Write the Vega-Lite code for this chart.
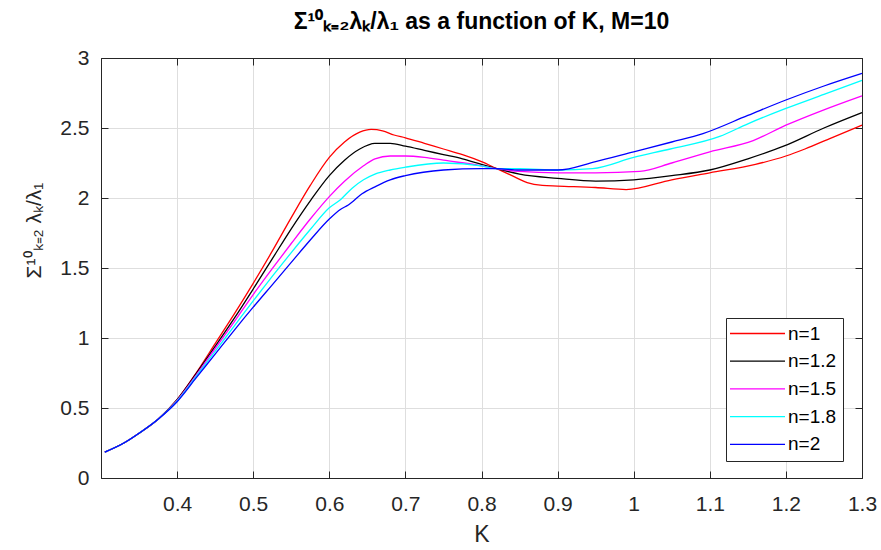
{
  "$schema": "https://vega.github.io/schema/vega-lite/v6.json",
  "width": 761,
  "height": 420,
  "autosize": "none",
  "padding": {"left": 101, "top": 58, "right": 19, "bottom": 72},
  "background": "white",
  "config": {
    "font": "Liberation Sans",
    "view": {"stroke": "#262626", "strokeWidth": 1},
    "axis": {
      "domainColor": "#262626",
      "tickColor": "#262626",
      "tickSize": -7,
      "gridColor": "#dedede",
      "gridWidth": 1,
      "labelColor": "#262626",
      "labelFont": "Liberation Sans",
      "labelFontSize": 21,
      "titleFont": "Liberation Sans",
      "titleFontWeight": "normal",
      "titleColor": "#262626",
      "titleFontSize": 23
    },
    "legend": {
      "orient": "none",
      "legendX": 625,
      "legendY": 260,
      "direction": "vertical",
      "symbolType": "M-5,0H5",
      "symbolSize": 121,
      "symbolStrokeWidth": 1.3,
      "symbolOffset": 16,
      "strokeColor": "#262626",
      "fillColor": "white",
      "padding": 6,
      "labelFontSize": 19,
      "labelFont": "Liberation Sans",
      "labelColor": "#000000",
      "rowPadding": 7.7,
      "labelOffset": 21
    }
  },
  "title": {
    "text": "Σ¹⁰ₖ₌₂λₖ/λ₁ as a function of K, M=10",
    "font": "Liberation Sans",
    "fontSize": 23,
    "fontWeight": "bold",
    "color": "#000000",
    "anchor": "middle",
    "offset": 13
  },
  "data": {
    "values": [
      {"K": 0.305, "v": 0.185, "n": "n=1"}, {"K": 0.33, "v": 0.25, "n": "n=1"}, {"K": 0.35, "v": 0.32, "n": "n=1"}, {"K": 0.375, "v": 0.42, "n": "n=1"}, {"K": 0.4, "v": 0.56, "n": "n=1"}, {"K": 0.425, "v": 0.75, "n": "n=1"}, {"K": 0.45, "v": 0.96, "n": "n=1"}, {"K": 0.475, "v": 1.17, "n": "n=1"}, {"K": 0.5, "v": 1.39, "n": "n=1"}, {"K": 0.525, "v": 1.62, "n": "n=1"}, {"K": 0.55, "v": 1.86, "n": "n=1"}, {"K": 0.575, "v": 2.09, "n": "n=1"}, {"K": 0.6, "v": 2.29, "n": "n=1"}, {"K": 0.62, "v": 2.4, "n": "n=1"}, {"K": 0.64, "v": 2.47, "n": "n=1"}, {"K": 0.655, "v": 2.49, "n": "n=1"}, {"K": 0.67, "v": 2.48, "n": "n=1"}, {"K": 0.685, "v": 2.45, "n": "n=1"}, {"K": 0.7, "v": 2.43, "n": "n=1"}, {"K": 0.725, "v": 2.39, "n": "n=1"}, {"K": 0.75, "v": 2.35, "n": "n=1"}, {"K": 0.775, "v": 2.31, "n": "n=1"}, {"K": 0.8, "v": 2.26, "n": "n=1"}, {"K": 0.82, "v": 2.21, "n": "n=1"}, {"K": 0.84, "v": 2.16, "n": "n=1"}, {"K": 0.86, "v": 2.11, "n": "n=1"}, {"K": 0.88, "v": 2.09, "n": "n=1"}, {"K": 0.9, "v": 2.085, "n": "n=1"}, {"K": 0.95, "v": 2.075, "n": "n=1"}, {"K": 0.99, "v": 2.06, "n": "n=1"}, {"K": 1.05, "v": 2.13, "n": "n=1"}, {"K": 1.1, "v": 2.18, "n": "n=1"}, {"K": 1.16, "v": 2.24, "n": "n=1"}, {"K": 1.2, "v": 2.3, "n": "n=1"}, {"K": 1.225, "v": 2.35, "n": "n=1"}, {"K": 1.26, "v": 2.43, "n": "n=1"}, {"K": 1.3, "v": 2.52, "n": "n=1"},

      {"K": 0.305, "v": 0.185, "n": "n=1.2"}, {"K": 0.33, "v": 0.25, "n": "n=1.2"}, {"K": 0.35, "v": 0.32, "n": "n=1.2"}, {"K": 0.375, "v": 0.42, "n": "n=1.2"}, {"K": 0.4, "v": 0.56, "n": "n=1.2"}, {"K": 0.425, "v": 0.745, "n": "n=1.2"}, {"K": 0.45, "v": 0.94, "n": "n=1.2"}, {"K": 0.475, "v": 1.14, "n": "n=1.2"}, {"K": 0.5, "v": 1.35, "n": "n=1.2"}, {"K": 0.525, "v": 1.565, "n": "n=1.2"}, {"K": 0.55, "v": 1.78, "n": "n=1.2"}, {"K": 0.575, "v": 1.98, "n": "n=1.2"}, {"K": 0.6, "v": 2.16, "n": "n=1.2"}, {"K": 0.62, "v": 2.27, "n": "n=1.2"}, {"K": 0.64, "v": 2.35, "n": "n=1.2"}, {"K": 0.66, "v": 2.39, "n": "n=1.2"}, {"K": 0.68, "v": 2.39, "n": "n=1.2"}, {"K": 0.7, "v": 2.37, "n": "n=1.2"}, {"K": 0.725, "v": 2.34, "n": "n=1.2"}, {"K": 0.75, "v": 2.31, "n": "n=1.2"}, {"K": 0.775, "v": 2.28, "n": "n=1.2"}, {"K": 0.8, "v": 2.24, "n": "n=1.2"}, {"K": 0.82, "v": 2.21, "n": "n=1.2"}, {"K": 0.85, "v": 2.17, "n": "n=1.2"}, {"K": 0.9, "v": 2.14, "n": "n=1.2"}, {"K": 0.95, "v": 2.12, "n": "n=1.2"}, {"K": 1.0, "v": 2.13, "n": "n=1.2"}, {"K": 1.05, "v": 2.16, "n": "n=1.2"}, {"K": 1.1, "v": 2.2, "n": "n=1.2"}, {"K": 1.15, "v": 2.28, "n": "n=1.2"}, {"K": 1.197, "v": 2.37, "n": "n=1.2"}, {"K": 1.25, "v": 2.5, "n": "n=1.2"}, {"K": 1.3, "v": 2.61, "n": "n=1.2"},

      {"K": 0.305, "v": 0.185, "n": "n=1.5"}, {"K": 0.33, "v": 0.25, "n": "n=1.5"}, {"K": 0.35, "v": 0.32, "n": "n=1.5"}, {"K": 0.375, "v": 0.42, "n": "n=1.5"}, {"K": 0.4, "v": 0.555, "n": "n=1.5"}, {"K": 0.425, "v": 0.735, "n": "n=1.5"}, {"K": 0.45, "v": 0.925, "n": "n=1.5"}, {"K": 0.475, "v": 1.115, "n": "n=1.5"}, {"K": 0.5, "v": 1.31, "n": "n=1.5"}, {"K": 0.525, "v": 1.495, "n": "n=1.5"}, {"K": 0.55, "v": 1.675, "n": "n=1.5"}, {"K": 0.575, "v": 1.85, "n": "n=1.5"}, {"K": 0.6, "v": 2.01, "n": "n=1.5"}, {"K": 0.62, "v": 2.12, "n": "n=1.5"}, {"K": 0.645, "v": 2.23, "n": "n=1.5"}, {"K": 0.66, "v": 2.28, "n": "n=1.5"}, {"K": 0.68, "v": 2.3, "n": "n=1.5"}, {"K": 0.7, "v": 2.3, "n": "n=1.5"}, {"K": 0.725, "v": 2.29, "n": "n=1.5"}, {"K": 0.75, "v": 2.27, "n": "n=1.5"}, {"K": 0.8, "v": 2.23, "n": "n=1.5"}, {"K": 0.82, "v": 2.21, "n": "n=1.5"}, {"K": 0.85, "v": 2.19, "n": "n=1.5"}, {"K": 0.9, "v": 2.18, "n": "n=1.5"}, {"K": 0.95, "v": 2.18, "n": "n=1.5"}, {"K": 1.008, "v": 2.19, "n": "n=1.5"}, {"K": 1.05, "v": 2.25, "n": "n=1.5"}, {"K": 1.1, "v": 2.33, "n": "n=1.5"}, {"K": 1.157, "v": 2.41, "n": "n=1.5"}, {"K": 1.2, "v": 2.52, "n": "n=1.5"}, {"K": 1.25, "v": 2.63, "n": "n=1.5"}, {"K": 1.3, "v": 2.73, "n": "n=1.5"},

      {"K": 0.305, "v": 0.185, "n": "n=1.8"}, {"K": 0.33, "v": 0.25, "n": "n=1.8"}, {"K": 0.35, "v": 0.32, "n": "n=1.8"}, {"K": 0.375, "v": 0.42, "n": "n=1.8"}, {"K": 0.4, "v": 0.55, "n": "n=1.8"}, {"K": 0.425, "v": 0.725, "n": "n=1.8"}, {"K": 0.45, "v": 0.905, "n": "n=1.8"}, {"K": 0.475, "v": 1.085, "n": "n=1.8"}, {"K": 0.5, "v": 1.265, "n": "n=1.8"}, {"K": 0.525, "v": 1.44, "n": "n=1.8"}, {"K": 0.55, "v": 1.61, "n": "n=1.8"}, {"K": 0.575, "v": 1.775, "n": "n=1.8"}, {"K": 0.6, "v": 1.93, "n": "n=1.8"}, {"K": 0.615, "v": 1.99, "n": "n=1.8"}, {"K": 0.63, "v": 2.07, "n": "n=1.8"}, {"K": 0.645, "v": 2.13, "n": "n=1.8"}, {"K": 0.66, "v": 2.17, "n": "n=1.8"}, {"K": 0.68, "v": 2.2, "n": "n=1.8"}, {"K": 0.7, "v": 2.22, "n": "n=1.8"}, {"K": 0.75, "v": 2.25, "n": "n=1.8"}, {"K": 0.8, "v": 2.23, "n": "n=1.8"}, {"K": 0.82, "v": 2.21, "n": "n=1.8"}, {"K": 0.85, "v": 2.21, "n": "n=1.8"}, {"K": 0.9, "v": 2.2, "n": "n=1.8"}, {"K": 0.946, "v": 2.21, "n": "n=1.8"}, {"K": 1.0, "v": 2.29, "n": "n=1.8"}, {"K": 1.048, "v": 2.35, "n": "n=1.8"}, {"K": 1.113, "v": 2.44, "n": "n=1.8"}, {"K": 1.15, "v": 2.53, "n": "n=1.8"}, {"K": 1.2, "v": 2.64, "n": "n=1.8"}, {"K": 1.25, "v": 2.74, "n": "n=1.8"}, {"K": 1.3, "v": 2.84, "n": "n=1.8"},

      {"K": 0.305, "v": 0.185, "n": "n=2"}, {"K": 0.33, "v": 0.25, "n": "n=2"}, {"K": 0.35, "v": 0.32, "n": "n=2"}, {"K": 0.375, "v": 0.42, "n": "n=2"}, {"K": 0.4, "v": 0.545, "n": "n=2"}, {"K": 0.425, "v": 0.715, "n": "n=2"}, {"K": 0.45, "v": 0.885, "n": "n=2"}, {"K": 0.475, "v": 1.055, "n": "n=2"}, {"K": 0.5, "v": 1.22, "n": "n=2"}, {"K": 0.525, "v": 1.38, "n": "n=2"}, {"K": 0.55, "v": 1.54, "n": "n=2"}, {"K": 0.575, "v": 1.7, "n": "n=2"}, {"K": 0.6, "v": 1.85, "n": "n=2"}, {"K": 0.615, "v": 1.92, "n": "n=2"}, {"K": 0.625, "v": 1.95, "n": "n=2"}, {"K": 0.643, "v": 2.03, "n": "n=2"}, {"K": 0.66, "v": 2.08, "n": "n=2"}, {"K": 0.68, "v": 2.13, "n": "n=2"}, {"K": 0.7, "v": 2.16, "n": "n=2"}, {"K": 0.75, "v": 2.2, "n": "n=2"}, {"K": 0.8, "v": 2.21, "n": "n=2"}, {"K": 0.82, "v": 2.21, "n": "n=2"}, {"K": 0.85, "v": 2.2, "n": "n=2"}, {"K": 0.9, "v": 2.2, "n": "n=2"}, {"K": 0.95, "v": 2.26, "n": "n=2"}, {"K": 1.0, "v": 2.33, "n": "n=2"}, {"K": 1.05, "v": 2.4, "n": "n=2"}, {"K": 1.091, "v": 2.46, "n": "n=2"}, {"K": 1.15, "v": 2.59, "n": "n=2"}, {"K": 1.2, "v": 2.7, "n": "n=2"}, {"K": 1.25, "v": 2.8, "n": "n=2"}, {"K": 1.3, "v": 2.89, "n": "n=2"}
    ]
  },
  "layer": [
    {
      "mark": {"type": "line", "strokeWidth": 1.3, "interpolate": "monotone"},
      "encoding": {
        "x": {
          "field": "K", "type": "quantitative",
          "scale": {"domain": [0.3, 1.3], "nice": false, "zero": false},
          "axis": {"orient": "bottom", "values": [0.4, 0.5, 0.6, 0.7, 0.8, 0.9, 1.0, 1.1, 1.2, 1.3], "format": "~g", "title": "K", "labelPadding": 22, "titleY": 63, "titleBaseline": "alphabetic", "grid": true, "labelFlush": false}
        },
        "y": {
          "field": "v", "type": "quantitative",
          "scale": {"domain": [0, 3], "nice": false},
          "axis": {"orient": "left", "values": [0, 0.5, 1, 1.5, 2, 2.5, 3], "format": "~g", "title": "Σ¹⁰ₖ₌₂ λₖ/λ₁", "titleFontSize": 21, "labelPadding": 19, "titleX": -67, "titleY": 172, "titleAngle": -90, "titleAlign": "center", "titleBaseline": "middle", "grid": true}
        },
        "color": {
          "field": "n", "type": "nominal",
          "scale": {"domain": ["n=1", "n=1.2", "n=1.5", "n=1.8", "n=2"], "range": ["#ff0000", "#000000", "#ff00ff", "#00ffff", "#0000ff"]},
          "legend": {"title": null}
        }
      }
    },
    {
      "mark": {"type": "line", "opacity": 0},
      "encoding": {
        "x": {
          "field": "K", "type": "quantitative",
          "scale": {"domain": [0.3, 1.3], "nice": false, "zero": false},
          "axis": {"orient": "top", "values": [0.4, 0.5, 0.6, 0.7, 0.8, 0.9, 1.0, 1.1, 1.2, 1.3], "labels": false, "title": null, "grid": false}
        },
        "y": {
          "field": "v", "type": "quantitative",
          "scale": {"domain": [0, 3], "nice": false},
          "axis": {"orient": "right", "values": [0, 0.5, 1, 1.5, 2, 2.5, 3], "labels": false, "title": null, "grid": false}
        },
        "detail": {"field": "n", "type": "nominal"}
      }
    }
  ],
  "resolve": {"axis": {"x": "independent", "y": "independent"}}
}
